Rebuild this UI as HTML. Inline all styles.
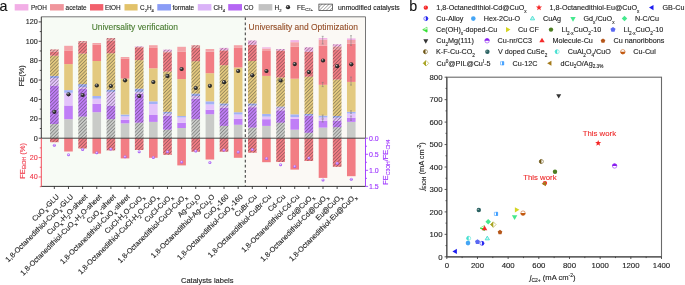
<!DOCTYPE html><html><head><meta charset="utf-8"><style>html,body{margin:0;padding:0;background:#fff;}svg{display:block;will-change:transform;}text{font-family:"Liberation Sans",sans-serif;}</style></head><body>
<svg width="685" height="285" viewBox="0 0 685 285">
<defs>
<pattern id="hat" patternUnits="userSpaceOnUse" width="2.45" height="2.45" patternTransform="rotate(45)"><line x1="0" y1="0" x2="0" y2="2.45" stroke="#2c2c2c" stroke-width="0.7"/></pattern>
<radialGradient id="ball" cx="0.38" cy="0.35" r="0.7"><stop offset="0" stop-color="#d8d8d8"/><stop offset="0.35" stop-color="#404040"/><stop offset="1" stop-color="#111"/></radialGradient>
<radialGradient id="pball" cx="0.45" cy="0.4" r="0.65"><stop offset="0" stop-color="#f0e0ff"/><stop offset="0.5" stop-color="#b878f8"/><stop offset="1" stop-color="#9a50f0"/></radialGradient>
</defs>
<rect width="685" height="285" fill="#fff"/>
<rect x="41.3" y="16.8" width="204.0" height="169.6" fill="#f7fbf5"/>
<rect x="245.3" y="16.8" width="120.19999999999999" height="169.6" fill="#fbf9f5"/>
<text x="91.7" y="29.8" font-size="8.45" fill="#4a7d32" stroke="#4a7d32" stroke-width="0.12">Universality verification</text>
<text x="248.6" y="29.7" font-size="8.45" fill="#96502a" stroke="#96502a" stroke-width="0.12">Universality and Optimization</text>
<rect x="50.04" y="124.00" width="8.6" height="14.20" fill="#c9cbc8"/>
<rect x="50.04" y="85.50" width="8.6" height="38.50" fill="#c07ef7"/>
<rect x="50.04" y="78.10" width="8.6" height="7.40" fill="#e3c3fb"/>
<rect x="50.04" y="75.90" width="8.6" height="2.20" fill="#a3b1f7"/>
<rect x="50.04" y="55.70" width="8.6" height="20.20" fill="#e3c97f"/>
<rect x="50.04" y="51.50" width="8.6" height="4.20" fill="#f27d84"/>
<rect x="50.04" y="49.40" width="8.6" height="2.10" fill="#f4a3a8"/>
<rect x="50.04" y="138.2" width="8.6" height="4.00" fill="#f27d84"/>
<rect x="50.04" y="49.40" width="8.6" height="88.80" fill="url(#hat)"/>
<rect x="50.04" y="138.2" width="8.6" height="4.00" fill="url(#hat)"/>
<rect x="64.18" y="119.20" width="8.6" height="19.00" fill="#c9cbc8"/>
<rect x="64.18" y="105.50" width="8.6" height="13.70" fill="#c07ef7"/>
<rect x="64.18" y="92.80" width="8.6" height="12.70" fill="#e3c3fb"/>
<rect x="64.18" y="90.10" width="8.6" height="2.70" fill="#a3b1f7"/>
<rect x="64.18" y="64.10" width="8.6" height="26.00" fill="#e3c97f"/>
<rect x="64.18" y="50.40" width="8.6" height="13.70" fill="#f27d84"/>
<rect x="64.18" y="45.80" width="8.6" height="4.60" fill="#f4a3a8"/>
<rect x="64.18" y="138.2" width="8.6" height="13.30" fill="#f27d84"/>
<rect x="78.32" y="116.60" width="8.6" height="21.60" fill="#c9cbc8"/>
<rect x="78.32" y="89.00" width="8.6" height="27.60" fill="#c07ef7"/>
<rect x="78.32" y="87.00" width="8.6" height="2.00" fill="#e3c3fb"/>
<rect x="78.32" y="84.10" width="8.6" height="2.90" fill="#a3b1f7"/>
<rect x="78.32" y="53.60" width="8.6" height="30.50" fill="#e3c97f"/>
<rect x="78.32" y="42.50" width="8.6" height="11.10" fill="#f27d84"/>
<rect x="78.32" y="41.00" width="8.6" height="1.50" fill="#f4a3a8"/>
<rect x="78.32" y="138.2" width="8.6" height="10.30" fill="#f27d84"/>
<rect x="78.32" y="41.00" width="8.6" height="97.20" fill="url(#hat)"/>
<rect x="78.32" y="138.2" width="8.6" height="10.30" fill="url(#hat)"/>
<rect x="92.46" y="112.20" width="8.6" height="26.00" fill="#c9cbc8"/>
<rect x="92.46" y="103.80" width="8.6" height="8.40" fill="#c07ef7"/>
<rect x="92.46" y="98.70" width="8.6" height="5.10" fill="#e3c3fb"/>
<rect x="92.46" y="96.00" width="8.6" height="2.70" fill="#a3b1f7"/>
<rect x="92.46" y="61.00" width="8.6" height="35.00" fill="#e3c97f"/>
<rect x="92.46" y="44.50" width="8.6" height="16.50" fill="#f27d84"/>
<rect x="92.46" y="43.00" width="8.6" height="1.50" fill="#f4a3a8"/>
<rect x="92.46" y="138.2" width="8.6" height="15.40" fill="#f27d84"/>
<rect x="106.60" y="119.20" width="8.6" height="19.00" fill="#c9cbc8"/>
<rect x="106.60" y="105.50" width="8.6" height="13.70" fill="#c07ef7"/>
<rect x="106.60" y="91.80" width="8.6" height="13.70" fill="#e3c3fb"/>
<rect x="106.60" y="89.70" width="8.6" height="2.10" fill="#a3b1f7"/>
<rect x="106.60" y="53.20" width="8.6" height="36.50" fill="#e3c97f"/>
<rect x="106.60" y="40.50" width="8.6" height="12.70" fill="#f27d84"/>
<rect x="106.60" y="38.00" width="8.6" height="2.50" fill="#f4a3a8"/>
<rect x="106.60" y="138.2" width="8.6" height="12.20" fill="#f27d84"/>
<rect x="106.60" y="38.00" width="8.6" height="100.20" fill="url(#hat)"/>
<rect x="106.60" y="138.2" width="8.6" height="12.20" fill="url(#hat)"/>
<rect x="120.74" y="123.40" width="8.6" height="14.80" fill="#c9cbc8"/>
<rect x="120.74" y="119.80" width="8.6" height="3.60" fill="#c07ef7"/>
<rect x="120.74" y="116.40" width="8.6" height="3.40" fill="#e3c3fb"/>
<rect x="120.74" y="114.50" width="8.6" height="1.90" fill="#a3b1f7"/>
<rect x="120.74" y="78.60" width="8.6" height="35.90" fill="#e3c97f"/>
<rect x="120.74" y="58.50" width="8.6" height="20.10" fill="#f27d84"/>
<rect x="120.74" y="57.00" width="8.6" height="1.50" fill="#f4a3a8"/>
<rect x="120.74" y="138.2" width="8.6" height="20.20" fill="#f27d84"/>
<rect x="134.88" y="122.70" width="8.6" height="15.50" fill="#c9cbc8"/>
<rect x="134.88" y="93.90" width="8.6" height="28.80" fill="#c07ef7"/>
<rect x="134.88" y="91.80" width="8.6" height="2.10" fill="#e3c3fb"/>
<rect x="134.88" y="88.60" width="8.6" height="3.20" fill="#a3b1f7"/>
<rect x="134.88" y="60.10" width="8.6" height="28.50" fill="#e3c97f"/>
<rect x="134.88" y="48.00" width="8.6" height="12.10" fill="#f27d84"/>
<rect x="134.88" y="47.00" width="8.6" height="1.00" fill="#f4a3a8"/>
<rect x="134.88" y="46.40" width="8.6" height="0.60" fill="#f2b3e6"/>
<rect x="134.88" y="138.2" width="8.6" height="11.80" fill="#f27d84"/>
<rect x="134.88" y="46.40" width="8.6" height="91.80" fill="url(#hat)"/>
<rect x="134.88" y="138.2" width="8.6" height="11.80" fill="url(#hat)"/>
<rect x="149.02" y="121.90" width="8.6" height="16.30" fill="#c9cbc8"/>
<rect x="149.02" y="115.00" width="8.6" height="6.90" fill="#c07ef7"/>
<rect x="149.02" y="104.00" width="8.6" height="11.00" fill="#e3c3fb"/>
<rect x="149.02" y="101.30" width="8.6" height="2.70" fill="#a3b1f7"/>
<rect x="149.02" y="68.30" width="8.6" height="33.00" fill="#e3c97f"/>
<rect x="149.02" y="47.90" width="8.6" height="20.40" fill="#f27d84"/>
<rect x="149.02" y="45.20" width="8.6" height="2.70" fill="#f4a3a8"/>
<rect x="149.02" y="138.2" width="8.6" height="19.60" fill="#f27d84"/>
<rect x="163.16" y="129.70" width="8.6" height="8.50" fill="#c9cbc8"/>
<rect x="163.16" y="116.00" width="8.6" height="13.70" fill="#c07ef7"/>
<rect x="163.16" y="113.50" width="8.6" height="2.50" fill="#e3c3fb"/>
<rect x="163.16" y="111.80" width="8.6" height="1.70" fill="#a3b1f7"/>
<rect x="163.16" y="71.50" width="8.6" height="40.30" fill="#e3c97f"/>
<rect x="163.16" y="53.00" width="8.6" height="18.50" fill="#f27d84"/>
<rect x="163.16" y="51.60" width="8.6" height="1.40" fill="#f4a3a8"/>
<rect x="163.16" y="49.60" width="8.6" height="2.00" fill="#f2b3e6"/>
<rect x="163.16" y="138.2" width="8.6" height="16.60" fill="#f27d84"/>
<rect x="163.16" y="49.60" width="8.6" height="88.60" fill="url(#hat)"/>
<rect x="163.16" y="138.2" width="8.6" height="16.60" fill="url(#hat)"/>
<rect x="177.30" y="128.00" width="8.6" height="10.20" fill="#c9cbc8"/>
<rect x="177.30" y="122.70" width="8.6" height="5.30" fill="#c07ef7"/>
<rect x="177.30" y="117.50" width="8.6" height="5.20" fill="#e3c3fb"/>
<rect x="177.30" y="116.00" width="8.6" height="1.50" fill="#a3b1f7"/>
<rect x="177.30" y="79.10" width="8.6" height="36.90" fill="#e3c97f"/>
<rect x="177.30" y="51.50" width="8.6" height="27.60" fill="#f27d84"/>
<rect x="177.30" y="46.80" width="8.6" height="4.70" fill="#f4a3a8"/>
<rect x="177.30" y="138.2" width="8.6" height="27.20" fill="#f27d84"/>
<rect x="191.44" y="119.20" width="8.6" height="19.00" fill="#c9cbc8"/>
<rect x="191.44" y="98.70" width="8.6" height="20.50" fill="#c07ef7"/>
<rect x="191.44" y="96.00" width="8.6" height="2.70" fill="#e3c3fb"/>
<rect x="191.44" y="93.50" width="8.6" height="2.50" fill="#a3b1f7"/>
<rect x="191.44" y="61.20" width="8.6" height="32.30" fill="#e3c97f"/>
<rect x="191.44" y="47.90" width="8.6" height="13.30" fill="#f27d84"/>
<rect x="191.44" y="45.20" width="8.6" height="2.70" fill="#f4a3a8"/>
<rect x="191.44" y="138.2" width="8.6" height="13.50" fill="#f27d84"/>
<rect x="191.44" y="45.20" width="8.6" height="93.00" fill="url(#hat)"/>
<rect x="191.44" y="138.2" width="8.6" height="13.50" fill="url(#hat)"/>
<rect x="205.58" y="114.30" width="8.6" height="23.90" fill="#c9cbc8"/>
<rect x="205.58" y="109.70" width="8.6" height="4.60" fill="#c07ef7"/>
<rect x="205.58" y="104.40" width="8.6" height="5.30" fill="#e3c3fb"/>
<rect x="205.58" y="101.30" width="8.6" height="3.10" fill="#a3b1f7"/>
<rect x="205.58" y="73.20" width="8.6" height="28.10" fill="#e3c97f"/>
<rect x="205.58" y="51.70" width="8.6" height="21.50" fill="#f27d84"/>
<rect x="205.58" y="49.00" width="8.6" height="2.70" fill="#f4a3a8"/>
<rect x="205.58" y="138.2" width="8.6" height="21.30" fill="#f27d84"/>
<rect x="219.72" y="125.90" width="8.6" height="12.30" fill="#c9cbc8"/>
<rect x="219.72" y="107.60" width="8.6" height="18.30" fill="#c07ef7"/>
<rect x="219.72" y="105.50" width="8.6" height="2.10" fill="#e3c3fb"/>
<rect x="219.72" y="103.40" width="8.6" height="2.10" fill="#a3b1f7"/>
<rect x="219.72" y="65.20" width="8.6" height="38.20" fill="#e3c97f"/>
<rect x="219.72" y="50.40" width="8.6" height="14.80" fill="#f27d84"/>
<rect x="219.72" y="47.90" width="8.6" height="2.50" fill="#f2b3e6"/>
<rect x="219.72" y="138.2" width="8.6" height="13.50" fill="#f27d84"/>
<rect x="219.72" y="47.90" width="8.6" height="90.30" fill="url(#hat)"/>
<rect x="219.72" y="138.2" width="8.6" height="13.50" fill="url(#hat)"/>
<rect x="233.86" y="124.80" width="8.6" height="13.40" fill="#c9cbc8"/>
<rect x="233.86" y="118.70" width="8.6" height="6.10" fill="#c07ef7"/>
<rect x="233.86" y="114.50" width="8.6" height="4.20" fill="#e3c3fb"/>
<rect x="233.86" y="112.20" width="8.6" height="2.30" fill="#a3b1f7"/>
<rect x="233.86" y="67.50" width="8.6" height="44.70" fill="#e3c97f"/>
<rect x="233.86" y="47.90" width="8.6" height="19.60" fill="#f27d84"/>
<rect x="233.86" y="45.20" width="8.6" height="2.70" fill="#f4a3a8"/>
<rect x="233.86" y="138.2" width="8.6" height="19.60" fill="#f27d84"/>
<rect x="248.00" y="127.60" width="8.6" height="10.60" fill="#c9cbc8"/>
<rect x="248.00" y="107.20" width="8.6" height="20.40" fill="#c07ef7"/>
<rect x="248.00" y="105.50" width="8.6" height="1.70" fill="#e3c3fb"/>
<rect x="248.00" y="103.40" width="8.6" height="2.10" fill="#a3b1f7"/>
<rect x="248.00" y="61.00" width="8.6" height="42.40" fill="#e3c97f"/>
<rect x="248.00" y="44.70" width="8.6" height="16.30" fill="#f27d84"/>
<rect x="248.00" y="40.50" width="8.6" height="4.20" fill="#f2b3e6"/>
<rect x="248.00" y="138.2" width="8.6" height="14.50" fill="#f27d84"/>
<rect x="248.00" y="40.50" width="8.6" height="97.70" fill="url(#hat)"/>
<rect x="248.00" y="138.2" width="8.6" height="14.50" fill="url(#hat)"/>
<rect x="262.14" y="125.90" width="8.6" height="12.30" fill="#c9cbc8"/>
<rect x="262.14" y="119.20" width="8.6" height="6.70" fill="#c07ef7"/>
<rect x="262.14" y="116.60" width="8.6" height="2.60" fill="#e3c3fb"/>
<rect x="262.14" y="113.90" width="8.6" height="2.70" fill="#a3b1f7"/>
<rect x="262.14" y="75.90" width="8.6" height="38.00" fill="#e3c97f"/>
<rect x="262.14" y="51.00" width="8.6" height="24.90" fill="#f27d84"/>
<rect x="262.14" y="48.50" width="8.6" height="2.50" fill="#f4a3a8"/>
<rect x="262.14" y="47.30" width="8.6" height="1.20" fill="#f2b3e6"/>
<rect x="262.14" y="138.2" width="8.6" height="24.00" fill="#f27d84"/>
<rect x="276.28" y="122.70" width="8.6" height="15.50" fill="#c9cbc8"/>
<rect x="276.28" y="110.30" width="8.6" height="12.40" fill="#c07ef7"/>
<rect x="276.28" y="107.60" width="8.6" height="2.70" fill="#e3c3fb"/>
<rect x="276.28" y="106.50" width="8.6" height="1.10" fill="#a3b1f7"/>
<rect x="276.28" y="77.40" width="8.6" height="29.10" fill="#e3c97f"/>
<rect x="276.28" y="50.50" width="8.6" height="26.90" fill="#f27d84"/>
<rect x="276.28" y="49.00" width="8.6" height="1.50" fill="#f2b3e6"/>
<rect x="276.28" y="138.2" width="8.6" height="23.80" fill="#f27d84"/>
<rect x="276.28" y="49.00" width="8.6" height="89.20" fill="url(#hat)"/>
<rect x="276.28" y="138.2" width="8.6" height="23.80" fill="url(#hat)"/>
<rect x="290.42" y="129.70" width="8.6" height="8.50" fill="#c9cbc8"/>
<rect x="290.42" y="118.70" width="8.6" height="11.00" fill="#c07ef7"/>
<rect x="290.42" y="117.00" width="8.6" height="1.70" fill="#e3c3fb"/>
<rect x="290.42" y="114.30" width="8.6" height="2.70" fill="#a3b1f7"/>
<rect x="290.42" y="78.70" width="8.6" height="35.60" fill="#e3c97f"/>
<rect x="290.42" y="46.80" width="8.6" height="31.90" fill="#f27d84"/>
<rect x="290.42" y="42.20" width="8.6" height="4.60" fill="#f4a3a8"/>
<rect x="290.42" y="40.10" width="8.6" height="2.10" fill="#f2b3e6"/>
<rect x="290.42" y="138.2" width="8.6" height="31.40" fill="#f27d84"/>
<rect x="304.56" y="132.80" width="8.6" height="5.40" fill="#c9cbc8"/>
<rect x="304.56" y="115.60" width="8.6" height="17.20" fill="#c07ef7"/>
<rect x="304.56" y="113.90" width="8.6" height="1.70" fill="#a3b1f7"/>
<rect x="304.56" y="76.70" width="8.6" height="37.20" fill="#e3c97f"/>
<rect x="304.56" y="51.70" width="8.6" height="25.00" fill="#f27d84"/>
<rect x="304.56" y="47.30" width="8.6" height="4.40" fill="#f2b3e6"/>
<rect x="304.56" y="138.2" width="8.6" height="22.80" fill="#f27d84"/>
<rect x="304.56" y="47.30" width="8.6" height="90.90" fill="url(#hat)"/>
<rect x="304.56" y="138.2" width="8.6" height="22.80" fill="url(#hat)"/>
<rect x="318.70" y="127.60" width="8.6" height="10.60" fill="#c9cbc8"/>
<rect x="318.70" y="120.80" width="8.6" height="6.80" fill="#c07ef7"/>
<rect x="318.70" y="117.50" width="8.6" height="3.30" fill="#e3c3fb"/>
<rect x="318.70" y="115.60" width="8.6" height="1.90" fill="#a3b1f7"/>
<rect x="318.70" y="84.80" width="8.6" height="30.80" fill="#e3c97f"/>
<rect x="318.70" y="45.80" width="8.6" height="39.00" fill="#f27d84"/>
<rect x="318.70" y="39.50" width="8.6" height="6.30" fill="#f4a3a8"/>
<rect x="318.70" y="38.00" width="8.6" height="1.50" fill="#f2b3e6"/>
<rect x="318.70" y="138.2" width="8.6" height="39.70" fill="#f27d84"/>
<rect x="332.84" y="127.20" width="8.6" height="11.00" fill="#c9cbc8"/>
<rect x="332.84" y="120.80" width="8.6" height="6.40" fill="#c07ef7"/>
<rect x="332.84" y="117.70" width="8.6" height="3.10" fill="#e3c3fb"/>
<rect x="332.84" y="116.00" width="8.6" height="1.70" fill="#a3b1f7"/>
<rect x="332.84" y="79.50" width="8.6" height="36.50" fill="#e3c97f"/>
<rect x="332.84" y="50.00" width="8.6" height="29.50" fill="#f27d84"/>
<rect x="332.84" y="46.40" width="8.6" height="3.60" fill="#f4a3a8"/>
<rect x="332.84" y="44.30" width="8.6" height="2.10" fill="#f2b3e6"/>
<rect x="332.84" y="138.2" width="8.6" height="28.60" fill="#f27d84"/>
<rect x="332.84" y="44.30" width="8.6" height="93.90" fill="url(#hat)"/>
<rect x="332.84" y="138.2" width="8.6" height="28.60" fill="url(#hat)"/>
<rect x="346.98" y="121.90" width="8.6" height="16.30" fill="#c9cbc8"/>
<rect x="346.98" y="117.70" width="8.6" height="4.20" fill="#c07ef7"/>
<rect x="346.98" y="113.50" width="8.6" height="4.20" fill="#e3c3fb"/>
<rect x="346.98" y="111.80" width="8.6" height="1.70" fill="#a3b1f7"/>
<rect x="346.98" y="81.90" width="8.6" height="29.90" fill="#e3c97f"/>
<rect x="346.98" y="43.70" width="8.6" height="38.20" fill="#f27d84"/>
<rect x="346.98" y="40.00" width="8.6" height="3.70" fill="#f4a3a8"/>
<rect x="346.98" y="38.40" width="8.6" height="1.60" fill="#f2b3e6"/>
<rect x="346.98" y="138.2" width="8.6" height="38.00" fill="#f27d84"/>
<path d="M322.7,36.3V44M321.7,36.3h2M321.7,44h2" stroke="#777" stroke-width="0.5" fill="none"/>
<path d="M322.7,82.4V86.6M321.7,82.4h2M321.7,86.6h2" stroke="#777" stroke-width="0.5" fill="none"/>
<path d="M322.7,115V118.2M321.7,115h2M321.7,118.2h2" stroke="#777" stroke-width="0.5" fill="none"/>
<path d="M322.7,119.2V122M321.7,119.2h2M321.7,122h2" stroke="#777" stroke-width="0.5" fill="none"/>
<path d="M351.0,35.7V45.3M350.0,35.7h2M350.0,45.3h2" stroke="#777" stroke-width="0.5" fill="none"/>
<path d="M351.0,77.1V85.1M350.0,77.1h2M350.0,85.1h2" stroke="#777" stroke-width="0.5" fill="none"/>
<path d="M351.0,110.8V113.3M350.0,110.8h2M350.0,113.3h2" stroke="#777" stroke-width="0.5" fill="none"/>
<path d="M351.0,116V120.3M350.0,116h2M350.0,120.3h2" stroke="#777" stroke-width="0.5" fill="none"/>
<line x1="41.3" y1="138.2" x2="365.5" y2="138.2" stroke="#333" stroke-width="0.9"/>
<circle cx="54.34" cy="111.8" r="2.1" fill="url(#ball)"/>
<circle cx="54.34" cy="145.2" r="1.5" fill="url(#pball)"/>
<circle cx="68.48" cy="94.3" r="2.1" fill="url(#ball)"/>
<circle cx="68.48" cy="154.8" r="1.5" fill="url(#pball)"/>
<circle cx="82.62" cy="95.0" r="2.1" fill="url(#ball)"/>
<circle cx="82.62" cy="149.4" r="1.5" fill="url(#pball)"/>
<circle cx="96.76" cy="85.5" r="2.1" fill="url(#ball)"/>
<circle cx="96.76" cy="152.7" r="1.5" fill="url(#pball)"/>
<circle cx="110.90" cy="86.0" r="2.1" fill="url(#ball)"/>
<circle cx="110.90" cy="149.0" r="1.5" fill="url(#pball)"/>
<circle cx="125.04" cy="80.3" r="2.1" fill="url(#ball)"/>
<circle cx="125.04" cy="156.7" r="1.5" fill="url(#pball)"/>
<circle cx="139.18" cy="96.0" r="2.1" fill="url(#ball)"/>
<circle cx="139.18" cy="151.7" r="1.5" fill="url(#pball)"/>
<circle cx="153.32" cy="82.0" r="2.1" fill="url(#ball)"/>
<circle cx="153.32" cy="157.4" r="1.5" fill="url(#pball)"/>
<circle cx="167.46" cy="75.9" r="2.1" fill="url(#ball)"/>
<circle cx="167.46" cy="151.7" r="1.5" fill="url(#pball)"/>
<circle cx="181.60" cy="69.0" r="2.1" fill="url(#ball)"/>
<circle cx="181.60" cy="162.0" r="1.5" fill="url(#pball)"/>
<circle cx="195.74" cy="88.0" r="2.1" fill="url(#ball)"/>
<circle cx="195.74" cy="151.0" r="1.5" fill="url(#pball)"/>
<circle cx="209.88" cy="85.8" r="2.1" fill="url(#ball)"/>
<circle cx="209.88" cy="162.6" r="1.5" fill="url(#pball)"/>
<circle cx="224.02" cy="82.2" r="2.1" fill="url(#ball)"/>
<circle cx="224.02" cy="150.0" r="1.5" fill="url(#pball)"/>
<circle cx="238.16" cy="71.0" r="2.1" fill="url(#ball)"/>
<circle cx="238.16" cy="152.1" r="1.5" fill="url(#pball)"/>
<circle cx="252.30" cy="75.3" r="2.1" fill="url(#ball)"/>
<circle cx="252.30" cy="149.6" r="1.5" fill="url(#pball)"/>
<circle cx="266.44" cy="71.0" r="2.1" fill="url(#ball)"/>
<circle cx="266.44" cy="158.4" r="1.5" fill="url(#pball)"/>
<circle cx="280.58" cy="80.5" r="2.1" fill="url(#ball)"/>
<circle cx="280.58" cy="164.7" r="1.5" fill="url(#pball)"/>
<circle cx="294.72" cy="64.1" r="2.1" fill="url(#ball)"/>
<circle cx="294.72" cy="166.4" r="1.5" fill="url(#pball)"/>
<circle cx="308.86" cy="72.1" r="2.1" fill="url(#ball)"/>
<circle cx="308.86" cy="158.0" r="1.5" fill="url(#pball)"/>
<circle cx="323.00" cy="60.5" r="2.1" fill="url(#ball)"/>
<circle cx="323.00" cy="179.9" r="1.5" fill="url(#pball)"/>
<circle cx="337.14" cy="66.2" r="2.1" fill="url(#ball)"/>
<circle cx="337.14" cy="163.3" r="1.5" fill="url(#pball)"/>
<circle cx="351.28" cy="64.3" r="2.1" fill="url(#ball)"/>
<circle cx="351.28" cy="179.2" r="1.5" fill="url(#pball)"/>
<line x1="245.3" y1="16.8" x2="245.3" y2="186.4" stroke="#3c3c3c" stroke-width="1.05" stroke-dasharray="2.75 2.335" stroke-dashoffset="-0.55"/>
<line x1="41.3" y1="16.8" x2="365.5" y2="16.8" stroke="#777" stroke-width="1"/>
<line x1="365.5" y1="16.8" x2="365.5" y2="138.2" stroke="#666" stroke-width="0.9"/>
<line x1="365.5" y1="138.2" x2="365.5" y2="186.4" stroke="#9b30ff" stroke-width="0.9"/>
<line x1="41.3" y1="16.8" x2="41.3" y2="138.2" stroke="#222" stroke-width="0.9"/>
<line x1="41.3" y1="138.2" x2="41.3" y2="186.4" stroke="#f03a4a" stroke-width="0.9"/>
<line x1="41.3" y1="186.4" x2="365.5" y2="186.4" stroke="#222" stroke-width="0.9"/>
<line x1="38.699999999999996" y1="138.20" x2="41.3" y2="138.20" stroke="#222" stroke-width="0.8"/>
<text x="37.8" y="140.70" font-size="7.2" text-anchor="end" fill="#222" stroke="#222" stroke-width="0.12">0</text>
<line x1="39.8" y1="128.51" x2="41.3" y2="128.51" stroke="#222" stroke-width="0.8"/>
<line x1="38.699999999999996" y1="118.82" x2="41.3" y2="118.82" stroke="#222" stroke-width="0.8"/>
<text x="37.8" y="121.32" font-size="7.2" text-anchor="end" fill="#222" stroke="#222" stroke-width="0.12">20</text>
<line x1="39.8" y1="109.12" x2="41.3" y2="109.12" stroke="#222" stroke-width="0.8"/>
<line x1="38.699999999999996" y1="99.43" x2="41.3" y2="99.43" stroke="#222" stroke-width="0.8"/>
<text x="37.8" y="101.93" font-size="7.2" text-anchor="end" fill="#222" stroke="#222" stroke-width="0.12">40</text>
<line x1="39.8" y1="89.74" x2="41.3" y2="89.74" stroke="#222" stroke-width="0.8"/>
<line x1="38.699999999999996" y1="80.05" x2="41.3" y2="80.05" stroke="#222" stroke-width="0.8"/>
<text x="37.8" y="82.55" font-size="7.2" text-anchor="end" fill="#222" stroke="#222" stroke-width="0.12">60</text>
<line x1="39.8" y1="70.36" x2="41.3" y2="70.36" stroke="#222" stroke-width="0.8"/>
<line x1="38.699999999999996" y1="60.67" x2="41.3" y2="60.67" stroke="#222" stroke-width="0.8"/>
<text x="37.8" y="63.17" font-size="7.2" text-anchor="end" fill="#222" stroke="#222" stroke-width="0.12">80</text>
<line x1="39.8" y1="50.98" x2="41.3" y2="50.98" stroke="#222" stroke-width="0.8"/>
<line x1="38.699999999999996" y1="41.28" x2="41.3" y2="41.28" stroke="#222" stroke-width="0.8"/>
<text x="37.8" y="43.78" font-size="7.2" text-anchor="end" fill="#222" stroke="#222" stroke-width="0.12">100</text>
<line x1="39.8" y1="31.59" x2="41.3" y2="31.59" stroke="#222" stroke-width="0.8"/>
<line x1="38.699999999999996" y1="21.90" x2="41.3" y2="21.90" stroke="#222" stroke-width="0.8"/>
<text x="37.8" y="24.40" font-size="7.2" text-anchor="end" fill="#222" stroke="#222" stroke-width="0.12">120</text>
<line x1="39.8" y1="147.89" x2="41.3" y2="147.89" stroke="#f03a4a" stroke-width="0.8"/>
<line x1="38.699999999999996" y1="157.58" x2="41.3" y2="157.58" stroke="#f03a4a" stroke-width="0.8"/>
<text x="37.8" y="160.08" font-size="7.2" text-anchor="end" fill="#f03a4a" stroke="#f03a4a" stroke-width="0.12">20</text>
<line x1="39.8" y1="167.27" x2="41.3" y2="167.27" stroke="#f03a4a" stroke-width="0.8"/>
<line x1="38.699999999999996" y1="176.97" x2="41.3" y2="176.97" stroke="#f03a4a" stroke-width="0.8"/>
<text x="37.8" y="179.47" font-size="7.2" text-anchor="end" fill="#f03a4a" stroke="#f03a4a" stroke-width="0.12">40</text>
<line x1="39.8" y1="186.66" x2="41.3" y2="186.66" stroke="#f03a4a" stroke-width="0.8"/>
<line x1="365.5" y1="138.20" x2="368.1" y2="138.20" stroke="#9b30ff" stroke-width="0.8"/>
<text x="369.0" y="140.70" font-size="7" fill="#9b30ff" stroke="#9b30ff" stroke-width="0.12">0.0</text>
<line x1="365.5" y1="146.23" x2="367.0" y2="146.23" stroke="#9b30ff" stroke-width="0.8"/>
<line x1="365.5" y1="154.27" x2="368.1" y2="154.27" stroke="#9b30ff" stroke-width="0.8"/>
<text x="369.0" y="156.77" font-size="7" fill="#9b30ff" stroke="#9b30ff" stroke-width="0.12">0.5</text>
<line x1="365.5" y1="162.30" x2="367.0" y2="162.30" stroke="#9b30ff" stroke-width="0.8"/>
<line x1="365.5" y1="170.33" x2="368.1" y2="170.33" stroke="#9b30ff" stroke-width="0.8"/>
<text x="369.0" y="172.83" font-size="7" fill="#9b30ff" stroke="#9b30ff" stroke-width="0.12">1.0</text>
<line x1="365.5" y1="178.37" x2="367.0" y2="178.37" stroke="#9b30ff" stroke-width="0.8"/>
<line x1="365.5" y1="186.40" x2="368.1" y2="186.40" stroke="#9b30ff" stroke-width="0.8"/>
<text x="369.0" y="188.90" font-size="7" fill="#9b30ff" stroke="#9b30ff" stroke-width="0.12">1.5</text>
<line x1="54.34" y1="186.4" x2="54.34" y2="189.0" stroke="#222" stroke-width="0.8"/>
<line x1="68.48" y1="186.4" x2="68.48" y2="189.0" stroke="#222" stroke-width="0.8"/>
<line x1="82.62" y1="186.4" x2="82.62" y2="189.0" stroke="#222" stroke-width="0.8"/>
<line x1="96.76" y1="186.4" x2="96.76" y2="189.0" stroke="#222" stroke-width="0.8"/>
<line x1="110.90" y1="186.4" x2="110.90" y2="189.0" stroke="#222" stroke-width="0.8"/>
<line x1="125.04" y1="186.4" x2="125.04" y2="189.0" stroke="#222" stroke-width="0.8"/>
<line x1="139.18" y1="186.4" x2="139.18" y2="189.0" stroke="#222" stroke-width="0.8"/>
<line x1="153.32" y1="186.4" x2="153.32" y2="189.0" stroke="#222" stroke-width="0.8"/>
<line x1="167.46" y1="186.4" x2="167.46" y2="189.0" stroke="#222" stroke-width="0.8"/>
<line x1="181.60" y1="186.4" x2="181.60" y2="189.0" stroke="#222" stroke-width="0.8"/>
<line x1="195.74" y1="186.4" x2="195.74" y2="189.0" stroke="#222" stroke-width="0.8"/>
<line x1="209.88" y1="186.4" x2="209.88" y2="189.0" stroke="#222" stroke-width="0.8"/>
<line x1="224.02" y1="186.4" x2="224.02" y2="189.0" stroke="#222" stroke-width="0.8"/>
<line x1="238.16" y1="186.4" x2="238.16" y2="189.0" stroke="#222" stroke-width="0.8"/>
<line x1="252.30" y1="186.4" x2="252.30" y2="189.0" stroke="#222" stroke-width="0.8"/>
<line x1="266.44" y1="186.4" x2="266.44" y2="189.0" stroke="#222" stroke-width="0.8"/>
<line x1="280.58" y1="186.4" x2="280.58" y2="189.0" stroke="#222" stroke-width="0.8"/>
<line x1="294.72" y1="186.4" x2="294.72" y2="189.0" stroke="#222" stroke-width="0.8"/>
<line x1="308.86" y1="186.4" x2="308.86" y2="189.0" stroke="#222" stroke-width="0.8"/>
<line x1="323.00" y1="186.4" x2="323.00" y2="189.0" stroke="#222" stroke-width="0.8"/>
<line x1="337.14" y1="186.4" x2="337.14" y2="189.0" stroke="#222" stroke-width="0.8"/>
<line x1="351.28" y1="186.4" x2="351.28" y2="189.0" stroke="#222" stroke-width="0.8"/>
<text transform="translate(24.2,75.8) rotate(-90)" font-size="7.4" text-anchor="middle" fill="#222" stroke="#222" stroke-width="0.12">FE(%)</text>
<text transform="translate(24.6,160.9) rotate(-90)" font-size="7.6" text-anchor="middle" fill="#f03a4a" stroke="#f03a4a" stroke-width="0.12">FE<tspan font-size="5" dy="1.8">EtOH</tspan><tspan dy="-1.8"> (%)</tspan></text>
<text transform="translate(388.3,162.2) rotate(-90)" font-size="7.5" text-anchor="middle" fill="#9b30ff" stroke="#9b30ff" stroke-width="0.12">FE<tspan font-size="5" dy="1.7">C3OH</tspan><tspan dy="-1.7">/FE</tspan><tspan font-size="5" dy="1.7">CH4</tspan></text>
<text transform="translate(59.54,197.20) rotate(-45)" font-size="7.3" text-anchor="end" fill="#222" stroke="#222" stroke-width="0.12">CuO<tspan font-size="4.75" dy="2.34">x</tspan><tspan dy="-2.34">​</tspan>-GLU</text>
<text transform="translate(73.68,197.20) rotate(-45)" font-size="7.3" text-anchor="end" fill="#222" stroke="#222" stroke-width="0.12">1,8-Octanedithiol-CuO<tspan font-size="4.75" dy="2.34">x</tspan><tspan dy="-2.34">​</tspan>-GLU</text>
<text transform="translate(87.82,197.20) rotate(-45)" font-size="7.3" text-anchor="end" fill="#222" stroke="#222" stroke-width="0.12">CuO<tspan font-size="4.75" dy="2.34">x</tspan><tspan dy="-2.34">​</tspan>-H<tspan font-size="4.75" dy="2.34">2</tspan><tspan dy="-2.34">​</tspan>O-sheet</text>
<text transform="translate(101.96,197.20) rotate(-45)" font-size="7.3" text-anchor="end" fill="#222" stroke="#222" stroke-width="0.12">1,8-Octanedithiol-CuO<tspan font-size="4.75" dy="2.34">x</tspan><tspan dy="-2.34">​</tspan>-H<tspan font-size="4.75" dy="2.34">2</tspan><tspan dy="-2.34">​</tspan>O-sheet</text>
<text transform="translate(116.10,197.20) rotate(-45)" font-size="7.3" text-anchor="end" fill="#222" stroke="#222" stroke-width="0.12">CuO<tspan font-size="4.75" dy="2.34">x</tspan><tspan dy="-2.34">​</tspan>-sheet</text>
<text transform="translate(130.24,197.20) rotate(-45)" font-size="7.3" text-anchor="end" fill="#222" stroke="#222" stroke-width="0.12">1,8-Octanedithiol-CuO<tspan font-size="4.75" dy="2.34">x</tspan><tspan dy="-2.34">​</tspan>-sheet</text>
<text transform="translate(144.38,197.20) rotate(-45)" font-size="7.3" text-anchor="end" fill="#222" stroke="#222" stroke-width="0.12">CuCl-H<tspan font-size="4.75" dy="2.34">2</tspan><tspan dy="-2.34">​</tspan>O-CuO<tspan font-size="4.75" dy="2.34">x</tspan><tspan dy="-2.34">​</tspan></text>
<text transform="translate(158.52,197.20) rotate(-45)" font-size="7.3" text-anchor="end" fill="#222" stroke="#222" stroke-width="0.12">1,8-Octanedithiol-CuCl-H<tspan font-size="4.75" dy="2.34">2</tspan><tspan dy="-2.34">​</tspan>O-CuO<tspan font-size="4.75" dy="2.34">x</tspan><tspan dy="-2.34">​</tspan></text>
<text transform="translate(172.66,197.20) rotate(-45)" font-size="7.3" text-anchor="end" fill="#222" stroke="#222" stroke-width="0.12">CuCl-CuO<tspan font-size="4.75" dy="2.34">x</tspan><tspan dy="-2.34">​</tspan></text>
<text transform="translate(186.80,197.20) rotate(-45)" font-size="7.3" text-anchor="end" fill="#222" stroke="#222" stroke-width="0.12">1,8-Octanedithiol-CuCl-CuO<tspan font-size="4.75" dy="2.34">x</tspan><tspan dy="-2.34">​</tspan></text>
<text transform="translate(200.94,197.20) rotate(-45)" font-size="7.3" text-anchor="end" fill="#222" stroke="#222" stroke-width="0.12">Ag-Cu<tspan font-size="4.75" dy="2.34">2</tspan><tspan dy="-2.34">​</tspan>O</text>
<text transform="translate(215.08,197.20) rotate(-45)" font-size="7.3" text-anchor="end" fill="#222" stroke="#222" stroke-width="0.12">1,8-Octanedithiol-Ag-Cu<tspan font-size="4.75" dy="2.34">2</tspan><tspan dy="-2.34">​</tspan>O</text>
<text transform="translate(229.22,197.20) rotate(-45)" font-size="7.3" text-anchor="end" fill="#222" stroke="#222" stroke-width="0.12">CuO<tspan font-size="4.75" dy="2.34">x</tspan><tspan dy="-2.34">​</tspan>-160</text>
<text transform="translate(243.36,197.20) rotate(-45)" font-size="7.3" text-anchor="end" fill="#222" stroke="#222" stroke-width="0.12">1,8-Octanedithiol-CuO<tspan font-size="4.75" dy="2.34">x</tspan><tspan dy="-2.34">​</tspan>-160</text>
<text transform="translate(257.50,197.20) rotate(-45)" font-size="7.3" text-anchor="end" fill="#222" stroke="#222" stroke-width="0.12">CuBr-Cu</text>
<text transform="translate(271.64,197.20) rotate(-45)" font-size="7.3" text-anchor="end" fill="#222" stroke="#222" stroke-width="0.12">1,8-Octanedithiol-CuBr-Cu</text>
<text transform="translate(285.78,197.20) rotate(-45)" font-size="7.3" text-anchor="end" fill="#222" stroke="#222" stroke-width="0.12">Cd-Cu</text>
<text transform="translate(299.92,197.20) rotate(-45)" font-size="7.3" text-anchor="end" fill="#222" stroke="#222" stroke-width="0.12">1,8-Octanedithiol-Cd-Cu</text>
<text transform="translate(314.06,197.20) rotate(-45)" font-size="7.3" text-anchor="end" fill="#222" stroke="#222" stroke-width="0.12">Cd@CuO<tspan font-size="4.75" dy="2.34">x</tspan><tspan dy="-2.34">​</tspan></text>
<text transform="translate(328.20,197.20) rotate(-45)" font-size="7.3" text-anchor="end" fill="#222" stroke="#222" stroke-width="0.12">1,8-Octanedithiol-Cd@CuO<tspan font-size="4.75" dy="2.34">x</tspan><tspan dy="-2.34">​</tspan></text>
<text transform="translate(342.34,197.20) rotate(-45)" font-size="7.3" text-anchor="end" fill="#222" stroke="#222" stroke-width="0.12">Eu@CuO<tspan font-size="4.75" dy="2.34">x</tspan><tspan dy="-2.34">​</tspan></text>
<text transform="translate(356.48,197.20) rotate(-45)" font-size="7.3" text-anchor="end" fill="#222" stroke="#222" stroke-width="0.12">1,8-Octanedithiol-Eu@CuO<tspan font-size="4.75" dy="2.34">x</tspan><tspan dy="-2.34">​</tspan></text>
<text x="181" y="282.5" font-size="7.5" fill="#222" stroke="#222" stroke-width="0.12">Catalysts labels</text>
<text x="-0.6" y="10.8" font-size="14.3" fill="#111" stroke="#111" stroke-width="0.12">a</text>
<rect x="14.7" y="4.1" width="13.7" height="6.4" fill="#f2aee6"/>
<text x="30.9" y="9.7" font-size="6.4" fill="#222" stroke="#222" stroke-width="0.12">PrOH</text>
<rect x="50" y="4.1" width="13.8" height="6.4" fill="#f0959c"/>
<text x="65.6" y="9.7" font-size="6.4" fill="#222" stroke="#222" stroke-width="0.12">acetate</text>
<rect x="90" y="4.1" width="13.3" height="6.4" fill="#f2606c"/>
<text x="105" y="9.7" font-size="6.4" fill="#222" stroke="#222" stroke-width="0.12">EtOH</text>
<rect x="124.5" y="4.1" width="13.1" height="6.4" fill="#e2c26a"/>
<text x="140" y="9.7" font-size="6.4" fill="#222" stroke="#222" stroke-width="0.12">C<tspan font-size="4.16" dy="2.05">2</tspan><tspan dy="-2.05">​</tspan>H<tspan font-size="4.16" dy="2.05">4</tspan><tspan dy="-2.05">​</tspan></text>
<rect x="157.3" y="4.1" width="13.7" height="6.4" fill="#8a9cf6"/>
<text x="172.5" y="9.7" font-size="6.4" fill="#222" stroke="#222" stroke-width="0.12">formate</text>
<rect x="197.8" y="4.1" width="13.6" height="6.4" fill="#dab2f8"/>
<text x="213.5" y="9.7" font-size="6.4" fill="#222" stroke="#222" stroke-width="0.12">CH<tspan font-size="4.16" dy="2.05">4</tspan><tspan dy="-2.05">​</tspan></text>
<rect x="228.2" y="4.1" width="13.8" height="6.4" fill="#b566f4"/>
<text x="244" y="9.7" font-size="6.4" fill="#222" stroke="#222" stroke-width="0.12">CO</text>
<rect x="258.6" y="4.1" width="13.7" height="6.4" fill="#c2c2c2"/>
<text x="274.5" y="9.7" font-size="6.4" fill="#222" stroke="#222" stroke-width="0.12">H<tspan font-size="4.16" dy="2.05">2</tspan><tspan dy="-2.05">​</tspan></text>
<circle cx="288" cy="7.2" r="2.1" fill="url(#ball)"/>
<text x="297" y="9.7" font-size="6.4" fill="#222" stroke="#222" stroke-width="0.12">FE<tspan font-size="4.2" dy="1.5">C2+</tspan></text>
<rect x="318.9" y="4.1" width="13.6" height="6.4" fill="#fff" stroke="#333" stroke-width="0.7"/>
<rect x="318.9" y="4.1" width="13.6" height="6.4" fill="url(#hat)"/>
<text x="338.1" y="9.7" font-size="6.8" fill="#222" stroke="#222" stroke-width="0.12">unmodified catalysts</text>
<text x="409.3" y="10.8" font-size="14.3" fill="#111" stroke="#111" stroke-width="0.12">b</text>
<path d="M423.60,7.60a2.2,2.2 0 1,0 4.4,0a2.2,2.2 0 1,0 -4.4,0Z" fill="#f52525"/>
<circle cx="425.20" cy="7.00" r="0.7" fill="#fff" opacity="0.55"/>
<text x="436.3" y="10.2" font-size="7.2" fill="#222" stroke="#222" stroke-width="0.12">1,8-Octanedithiol-Cd@CuO<tspan font-size="4.68" dy="2.30">x</tspan><tspan dy="-2.30">​</tspan></text>
<path d="M539.00,4.41L539.79,6.52L542.03,6.61L540.27,8.01L540.88,10.18L539.00,8.94L537.12,10.18L537.73,8.01L535.97,6.61L538.21,6.52Z" fill="#f52525"/>
<text x="549.5" y="10.2" font-size="7.2" fill="#222" stroke="#222" stroke-width="0.12">1,8-Octanedithiol-Eu@CuO<tspan font-size="4.68" dy="2.30">x</tspan><tspan dy="-2.30">​</tspan></text>
<path d="M649.01,7.60L653.50,5.01L653.50,10.19Z" fill="#1c1cf0"/>
<text x="662.5" y="10.2" font-size="7.2" fill="#222" stroke="#222" stroke-width="0.12">GB-Cu</text>
<clipPath id="c1"><rect x="425.80" y="15.40" width="3.20" height="6.40"/></clipPath>
<path d="M423.80,18.60a2.0,2.0 0 1,0 4.0,0a2.0,2.0 0 1,0 -4.0,0Z" fill="#fff" stroke="#2424f0" stroke-width="0.55"/>
<path d="M423.80,18.60a2.0,2.0 0 1,0 4.0,0a2.0,2.0 0 1,0 -4.0,0Z" fill="#2424f0" stroke="#2424f0" stroke-width="0.55" clip-path="url(#c1)"/>
<text x="436.3" y="21.2" font-size="7.2" fill="#222" stroke="#222" stroke-width="0.12">Cu-Alloy</text>
<path d="M471.00,18.60a2.3,2.3 0 1,0 4.6,0a2.3,2.3 0 1,0 -4.6,0Z" fill="#45a5f5"/>
<text x="483.8" y="21.2" font-size="7.2" fill="#222" stroke="#222" stroke-width="0.12">Hex-2Cu-O</text>
<path d="M532.50,16.13L534.64,19.84L530.36,19.84Z" fill="#c8f4f0" stroke="#45e0d2" stroke-width="0.9"/>
<text x="543.0" y="21.2" font-size="7.2" fill="#222" stroke="#222" stroke-width="0.12">CuAg</text>
<path d="M573.00,21.72L570.30,17.04L575.70,17.04Z" fill="#45e88e"/>
<text x="583.5" y="21.2" font-size="7.2" fill="#222" stroke="#222" stroke-width="0.12">Gd<tspan font-size="4.68" dy="2.30">x</tspan><tspan dy="-2.30">​</tspan>/CuO<tspan font-size="4.68" dy="2.30">x</tspan><tspan dy="-2.30">​</tspan></text>
<path d="M624.50,15.85L627.25,18.60L624.50,21.35L621.75,18.60Z" fill="#45e88e"/>
<text x="635.0" y="21.2" font-size="7.2" fill="#222" stroke="#222" stroke-width="0.12">N-C/Cu</text>
<clipPath id="c2"><rect x="422.08" y="29.60" width="7.04" height="3.52"/></clipPath>
<path d="M422.74,29.60L427.03,27.12L427.03,32.08Z" fill="#fff" stroke="#2ee02e" stroke-width="0.55"/>
<path d="M422.74,29.60L427.03,27.12L427.03,32.08Z" fill="#2ee02e" stroke="#2ee02e" stroke-width="0.55" clip-path="url(#c2)"/>
<text x="436.1" y="32.2" font-size="7.2" fill="#222" stroke="#222" stroke-width="0.12">Ce(OH)<tspan font-size="4.68" dy="2.30">x</tspan><tspan dy="-2.30">​</tspan>-doped-Cu</text>
<path d="M510.49,29.60L506.00,32.19L506.00,27.01Z" fill="#d4d422"/>
<text x="518.0" y="32.2" font-size="7.2" fill="#222" stroke="#222" stroke-width="0.12">Cu CF</text>
<path d="M548.80,29.60a2.2,2.2 0 1,0 4.4,0a2.2,2.2 0 1,0 -4.4,0Z" fill="#4d7d22"/>
<text x="561.5" y="32.2" font-size="7.2" fill="#222" stroke="#222" stroke-width="0.12">Li<tspan font-size="4.68" dy="2.30">2-x</tspan><tspan dy="-2.30">​</tspan>CuO<tspan font-size="4.68" dy="2.30">2</tspan><tspan dy="-2.30">​</tspan>-10</text>
<path d="M613.00,26.96L615.51,28.78L614.55,31.74L611.45,31.74L610.49,28.78Z" fill="#5a68f2"/>
<text x="623.5" y="32.2" font-size="7.2" fill="#222" stroke="#222" stroke-width="0.12">Li<tspan font-size="4.68" dy="2.30">2-x</tspan><tspan dy="-2.30">​</tspan>CuO<tspan font-size="4.68" dy="2.30">2</tspan><tspan dy="-2.30">​</tspan>-10</text>
<path d="M425.80,43.66L423.32,39.37L428.28,39.37Z" fill="#333333"/>
<text x="436.3" y="43.4" font-size="7.2" fill="#222" stroke="#222" stroke-width="0.12">Cu<tspan font-size="4.68" dy="2.30">2</tspan><tspan dy="-2.30">​</tspan>Mg(111)</text>
<clipPath id="c3"><rect x="483.58" y="37.28" width="7.04" height="3.52"/></clipPath>
<path d="M484.90,40.80a2.2,2.2 0 1,0 4.4,0a2.2,2.2 0 1,0 -4.4,0Z" fill="#fff" stroke="#8a1ef0" stroke-width="0.55"/>
<path d="M484.90,40.80a2.2,2.2 0 1,0 4.4,0a2.2,2.2 0 1,0 -4.4,0Z" fill="#8a1ef0" stroke="#8a1ef0" stroke-width="0.55" clip-path="url(#c3)"/>
<text x="497.6" y="43.4" font-size="7.2" fill="#222" stroke="#222" stroke-width="0.12">Cu-nr/CC3</text>
<path d="M542.00,37.68L544.70,42.36L539.30,42.36Z" fill="#f52a2a"/>
<text x="552.5" y="43.4" font-size="7.2" fill="#222" stroke="#222" stroke-width="0.12">Molecule-Cu</text>
<path d="M603.00,38.38L605.30,40.05L604.42,42.76L601.58,42.76L600.70,40.05Z" fill="#b5561a"/>
<text x="613.5" y="43.4" font-size="7.2" fill="#222" stroke="#222" stroke-width="0.12">Cu nanoribbons</text>
<clipPath id="c4"><rect x="422.30" y="48.50" width="3.20" height="6.40"/></clipPath>
<path d="M423.50,51.70a2.0,2.0 0 1,0 4.0,0a2.0,2.0 0 1,0 -4.0,0Z" fill="#fff" stroke="#6e5616" stroke-width="0.55"/>
<path d="M423.50,51.70a2.0,2.0 0 1,0 4.0,0a2.0,2.0 0 1,0 -4.0,0Z" fill="#6e5616" stroke="#6e5616" stroke-width="0.55" clip-path="url(#c4)"/>
<text x="436.0" y="54.3" font-size="7.2" fill="#222" stroke="#222" stroke-width="0.12">K-F-Cu-CO<tspan font-size="4.68" dy="2.30">2</tspan><tspan dy="-2.30">​</tspan></text>
<path d="M485.20,51.70a2.2,2.2 0 1,0 4.4,0a2.2,2.2 0 1,0 -4.4,0Z" fill="#2b6262"/>
<circle cx="486.80" cy="51.10" r="0.7" fill="#fff" opacity="0.55"/>
<text x="497.9" y="54.3" font-size="7.2" fill="#222" stroke="#222" stroke-width="0.12">V doped CuSe<tspan font-size="4.68" dy="2.30">2</tspan><tspan dy="-2.30">​</tspan></text>
<clipPath id="c5"><rect x="554.00" y="48.50" width="3.20" height="6.40"/></clipPath>
<path d="M555.20,51.70a2.0,2.0 0 1,0 4.0,0a2.0,2.0 0 1,0 -4.0,0Z" fill="#fff" stroke="#45e0d2" stroke-width="0.55"/>
<path d="M555.20,51.70a2.0,2.0 0 1,0 4.0,0a2.0,2.0 0 1,0 -4.0,0Z" fill="#45e0d2" stroke="#45e0d2" stroke-width="0.55" clip-path="url(#c5)"/>
<text x="567.7" y="54.3" font-size="7.2" fill="#222" stroke="#222" stroke-width="0.12">CuAl<tspan font-size="4.68" dy="2.30">2</tspan><tspan dy="-2.30">​</tspan>O<tspan font-size="4.68" dy="2.30">4</tspan><tspan dy="-2.30">​</tspan>/CuO</text>
<clipPath id="c6"><rect x="619.28" y="51.70" width="7.04" height="3.52"/></clipPath>
<path d="M620.60,51.70a2.2,2.2 0 1,0 4.4,0a2.2,2.2 0 1,0 -4.4,0Z" fill="#fff" stroke="#c2580e" stroke-width="0.55"/>
<path d="M620.60,51.70a2.2,2.2 0 1,0 4.4,0a2.2,2.2 0 1,0 -4.4,0Z" fill="#c2580e" stroke="#c2580e" stroke-width="0.55" clip-path="url(#c6)"/>
<text x="633.3" y="54.3" font-size="7.2" fill="#222" stroke="#222" stroke-width="0.12">Cu-CuI</text>
<clipPath id="c7"><rect x="422.48" y="59.78" width="3.52" height="7.04"/></clipPath>
<path d="M426.00,60.55L428.75,63.30L426.00,66.05L423.25,63.30Z" fill="#fff" stroke="#a8a422" stroke-width="0.55"/>
<path d="M426.00,60.55L428.75,63.30L426.00,66.05L423.25,63.30Z" fill="#a8a422" stroke="#a8a422" stroke-width="0.55" clip-path="url(#c7)"/>
<text x="436.5" y="65.9" font-size="7.2" fill="#222" stroke="#222" stroke-width="0.12">Cu<tspan font-size="4.68" dy="-2.74">0</tspan><tspan dy="2.74">​</tspan>@PIL@Cu<tspan font-size="4.68" dy="-2.74">I</tspan><tspan dy="2.74">​</tspan>-5</text>
<clipPath id="c8"><rect x="502.10" y="60.74" width="2.56" height="5.12"/></clipPath>
<path d="M500.50,61.70h3.2v3.2h-3.2Z" fill="#fff" stroke="#3a9cff" stroke-width="0.55"/>
<path d="M500.50,61.70h3.2v3.2h-3.2Z" fill="#3a9cff" stroke="#3a9cff" stroke-width="0.55" clip-path="url(#c8)"/>
<text x="512.6" y="65.9" font-size="7.2" fill="#222" stroke="#222" stroke-width="0.12">Cu-12C</text>
<path d="M547.14,63.30L551.43,60.82L551.43,65.78Z" fill="#a47a1a"/>
<text x="560.5" y="65.9" font-size="7.2" fill="#222" stroke="#222" stroke-width="0.12">dCu<tspan font-size="4.68" dy="2.30">2</tspan><tspan dy="-2.30">​</tspan>O/Ag<tspan font-size="4.68" dy="2.30">2.3%</tspan><tspan dy="-2.30">​</tspan></text>
<rect x="446.8" y="77.2" width="214.7" height="179.60000000000002" fill="none" stroke="#6a6a6a" stroke-width="1.1"/>
<line x1="446.8" y1="77.2" x2="446.8" y2="256.8" stroke="#555" stroke-width="1.2"/>
<line x1="446.8" y1="256.8" x2="661.5" y2="256.8" stroke="#555" stroke-width="1.2"/>
<line x1="444.6" y1="256.80" x2="446.8" y2="256.80" stroke="#333" stroke-width="0.8"/>
<text x="442.5" y="259.60" font-size="7.8" text-anchor="end" fill="#222" stroke="#222" stroke-width="0.12">0</text>
<line x1="445.5" y1="245.58" x2="446.8" y2="245.58" stroke="#333" stroke-width="0.8"/>
<line x1="444.6" y1="234.35" x2="446.8" y2="234.35" stroke="#333" stroke-width="0.8"/>
<text x="442.5" y="237.15" font-size="7.8" text-anchor="end" fill="#222" stroke="#222" stroke-width="0.12">100</text>
<line x1="445.5" y1="223.12" x2="446.8" y2="223.12" stroke="#333" stroke-width="0.8"/>
<line x1="444.6" y1="211.90" x2="446.8" y2="211.90" stroke="#333" stroke-width="0.8"/>
<text x="442.5" y="214.70" font-size="7.8" text-anchor="end" fill="#222" stroke="#222" stroke-width="0.12">200</text>
<line x1="445.5" y1="200.68" x2="446.8" y2="200.68" stroke="#333" stroke-width="0.8"/>
<line x1="444.6" y1="189.45" x2="446.8" y2="189.45" stroke="#333" stroke-width="0.8"/>
<text x="442.5" y="192.25" font-size="7.8" text-anchor="end" fill="#222" stroke="#222" stroke-width="0.12">300</text>
<line x1="445.5" y1="178.23" x2="446.8" y2="178.23" stroke="#333" stroke-width="0.8"/>
<line x1="444.6" y1="167.00" x2="446.8" y2="167.00" stroke="#333" stroke-width="0.8"/>
<text x="442.5" y="169.80" font-size="7.8" text-anchor="end" fill="#222" stroke="#222" stroke-width="0.12">400</text>
<line x1="445.5" y1="155.77" x2="446.8" y2="155.77" stroke="#333" stroke-width="0.8"/>
<line x1="444.6" y1="144.55" x2="446.8" y2="144.55" stroke="#333" stroke-width="0.8"/>
<text x="442.5" y="147.35" font-size="7.8" text-anchor="end" fill="#222" stroke="#222" stroke-width="0.12">500</text>
<line x1="445.5" y1="133.32" x2="446.8" y2="133.32" stroke="#333" stroke-width="0.8"/>
<line x1="444.6" y1="122.10" x2="446.8" y2="122.10" stroke="#333" stroke-width="0.8"/>
<text x="442.5" y="124.90" font-size="7.8" text-anchor="end" fill="#222" stroke="#222" stroke-width="0.12">600</text>
<line x1="445.5" y1="110.88" x2="446.8" y2="110.88" stroke="#333" stroke-width="0.8"/>
<line x1="444.6" y1="99.65" x2="446.8" y2="99.65" stroke="#333" stroke-width="0.8"/>
<text x="442.5" y="102.45" font-size="7.8" text-anchor="end" fill="#222" stroke="#222" stroke-width="0.12">700</text>
<line x1="445.5" y1="88.42" x2="446.8" y2="88.42" stroke="#333" stroke-width="0.8"/>
<line x1="444.6" y1="77.20" x2="446.8" y2="77.20" stroke="#333" stroke-width="0.8"/>
<text x="442.5" y="80.00" font-size="7.8" text-anchor="end" fill="#222" stroke="#222" stroke-width="0.12">800</text>
<line x1="446.80" y1="256.8" x2="446.80" y2="259.0" stroke="#333" stroke-width="0.8"/>
<text x="446.80" y="267.70" font-size="7.8" text-anchor="middle" fill="#222" stroke="#222" stroke-width="0.12">0</text>
<line x1="462.14" y1="256.8" x2="462.14" y2="258.1" stroke="#333" stroke-width="0.8"/>
<line x1="477.47" y1="256.8" x2="477.47" y2="259.0" stroke="#333" stroke-width="0.8"/>
<text x="477.47" y="267.70" font-size="7.8" text-anchor="middle" fill="#222" stroke="#222" stroke-width="0.12">200</text>
<line x1="492.81" y1="256.8" x2="492.81" y2="258.1" stroke="#333" stroke-width="0.8"/>
<line x1="508.14" y1="256.8" x2="508.14" y2="259.0" stroke="#333" stroke-width="0.8"/>
<text x="508.14" y="267.70" font-size="7.8" text-anchor="middle" fill="#222" stroke="#222" stroke-width="0.12">400</text>
<line x1="523.48" y1="256.8" x2="523.48" y2="258.1" stroke="#333" stroke-width="0.8"/>
<line x1="538.81" y1="256.8" x2="538.81" y2="259.0" stroke="#333" stroke-width="0.8"/>
<text x="538.81" y="267.70" font-size="7.8" text-anchor="middle" fill="#222" stroke="#222" stroke-width="0.12">600</text>
<line x1="554.15" y1="256.8" x2="554.15" y2="258.1" stroke="#333" stroke-width="0.8"/>
<line x1="569.49" y1="256.8" x2="569.49" y2="259.0" stroke="#333" stroke-width="0.8"/>
<text x="569.49" y="267.70" font-size="7.8" text-anchor="middle" fill="#222" stroke="#222" stroke-width="0.12">800</text>
<line x1="584.82" y1="256.8" x2="584.82" y2="258.1" stroke="#333" stroke-width="0.8"/>
<line x1="600.16" y1="256.8" x2="600.16" y2="259.0" stroke="#333" stroke-width="0.8"/>
<text x="600.16" y="267.70" font-size="7.8" text-anchor="middle" fill="#222" stroke="#222" stroke-width="0.12">1000</text>
<line x1="615.49" y1="256.8" x2="615.49" y2="258.1" stroke="#333" stroke-width="0.8"/>
<line x1="630.83" y1="256.8" x2="630.83" y2="259.0" stroke="#333" stroke-width="0.8"/>
<text x="630.83" y="267.70" font-size="7.8" text-anchor="middle" fill="#222" stroke="#222" stroke-width="0.12">1200</text>
<line x1="646.16" y1="256.8" x2="646.16" y2="258.1" stroke="#333" stroke-width="0.8"/>
<line x1="661.50" y1="256.8" x2="661.50" y2="259.0" stroke="#333" stroke-width="0.8"/>
<text x="661.50" y="267.70" font-size="7.8" text-anchor="middle" fill="#222" stroke="#222" stroke-width="0.12">1400</text>
<text transform="translate(423.8,166.3) rotate(-90)" font-size="7.5" text-anchor="middle" fill="#222" stroke="#222" stroke-width="0.12"><tspan font-style="italic">j</tspan><tspan font-size="4.9" dy="1.7">EtOH</tspan><tspan dy="-1.7"> (mA cm</tspan><tspan font-size="4.9" dy="-2.8">-2</tspan><tspan dy="2.8">)</tspan></text>
<text x="529.7" y="280.2" font-size="7.6" fill="#222" stroke="#222" stroke-width="0.12"><tspan font-style="italic">j</tspan><tspan font-size="5" dy="1.7">C2+</tspan><tspan dy="-1.7"> (mA cm</tspan><tspan font-size="5" dy="-2.8">-2</tspan><tspan dy="2.8">)</tspan></text>
<path d="M452.41,251.40L456.89,248.81L456.89,253.99Z" fill="#1c1cf0"/>
<path d="M465.70,243.10a2.3,2.3 0 1,0 4.6,0a2.3,2.3 0 1,0 -4.6,0Z" fill="#45a5f5"/>
<clipPath id="c9"><rect x="465.50" y="235.10" width="3.20" height="6.40"/></clipPath>
<path d="M466.70,238.30a2.0,2.0 0 1,0 4.0,0a2.0,2.0 0 1,0 -4.0,0Z" fill="#fff" stroke="#45e0d2" stroke-width="0.55"/>
<path d="M466.70,238.30a2.0,2.0 0 1,0 4.0,0a2.0,2.0 0 1,0 -4.0,0Z" fill="#45e0d2" stroke="#45e0d2" stroke-width="0.55" clip-path="url(#c9)"/>
<path d="M477.50,239.16L480.01,240.98L479.05,243.94L475.95,243.94L474.99,240.98Z" fill="#5a68f2"/>
<clipPath id="c10"><rect x="481.90" y="240.10" width="3.20" height="6.40"/></clipPath>
<path d="M479.90,243.30a2.0,2.0 0 1,0 4.0,0a2.0,2.0 0 1,0 -4.0,0Z" fill="#fff" stroke="#2424f0" stroke-width="0.55"/>
<path d="M479.90,243.30a2.0,2.0 0 1,0 4.0,0a2.0,2.0 0 1,0 -4.0,0Z" fill="#2424f0" stroke="#2424f0" stroke-width="0.55" clip-path="url(#c10)"/>
<path d="M487.30,236.13L489.44,239.84L485.16,239.84Z" fill="#c8f4f0" stroke="#45e0d2" stroke-width="0.9"/>
<path d="M500.00,229.78L502.30,231.45L501.42,234.16L498.58,234.16L497.70,231.45Z" fill="#b5561a"/>
<clipPath id="c11"><rect x="479.48" y="228.00" width="7.04" height="3.52"/></clipPath>
<path d="M480.14,228.00L484.43,225.52L484.43,230.48Z" fill="#fff" stroke="#2ee02e" stroke-width="0.55"/>
<path d="M480.14,228.00L484.43,225.52L484.43,230.48Z" fill="#2ee02e" stroke="#2ee02e" stroke-width="0.55" clip-path="url(#c11)"/>
<path d="M484.60,225.48L487.30,230.16L481.90,230.16Z" fill="#f52a2a"/>
<path d="M488.20,219.05L490.95,221.80L488.20,224.55L485.45,221.80Z" fill="#45e88e"/>
<clipPath id="c12"><rect x="489.78" y="221.08" width="3.52" height="7.04"/></clipPath>
<path d="M493.30,221.85L496.05,224.60L493.30,227.35L490.55,224.60Z" fill="#fff" stroke="#a8a422" stroke-width="0.55"/>
<path d="M493.30,221.85L496.05,224.60L493.30,227.35L490.55,224.60Z" fill="#a8a422" stroke="#a8a422" stroke-width="0.55" clip-path="url(#c12)"/>
<path d="M476.60,210.00a2.2,2.2 0 1,0 4.4,0a2.2,2.2 0 1,0 -4.4,0Z" fill="#2b6262"/>
<circle cx="478.20" cy="209.40" r="0.7" fill="#fff" opacity="0.55"/>
<clipPath id="c13"><rect x="496.00" y="211.34" width="2.56" height="5.12"/></clipPath>
<path d="M494.40,212.30h3.2v3.2h-3.2Z" fill="#fff" stroke="#3a9cff" stroke-width="0.55"/>
<path d="M494.40,212.30h3.2v3.2h-3.2Z" fill="#3a9cff" stroke="#3a9cff" stroke-width="0.55" clip-path="url(#c13)"/>
<path d="M514.60,219.92L511.90,215.24L517.30,215.24Z" fill="#45e88e"/>
<path d="M519.39,209.80L514.90,212.39L514.90,207.21Z" fill="#d4d422"/>
<clipPath id="c14"><rect x="519.48" y="213.10" width="7.04" height="3.52"/></clipPath>
<path d="M520.80,213.10a2.2,2.2 0 1,0 4.4,0a2.2,2.2 0 1,0 -4.4,0Z" fill="#fff" stroke="#c2580e" stroke-width="0.55"/>
<path d="M520.80,213.10a2.2,2.2 0 1,0 4.4,0a2.2,2.2 0 1,0 -4.4,0Z" fill="#c2580e" stroke="#c2580e" stroke-width="0.55" clip-path="url(#c14)"/>
<path d="M542.70,183.10a2.2,2.2 0 1,0 4.4,0a2.2,2.2 0 1,0 -4.4,0Z" fill="#f52525"/>
<circle cx="544.30" cy="182.50" r="0.7" fill="#fff" opacity="0.55"/>
<path d="M541.64,183.80L545.93,181.32L545.93,186.28Z" fill="#a47a1a"/>
<clipPath id="c15"><rect x="538.20" y="158.30" width="3.20" height="6.40"/></clipPath>
<path d="M539.40,161.50a2.0,2.0 0 1,0 4.0,0a2.0,2.0 0 1,0 -4.0,0Z" fill="#fff" stroke="#6e5616" stroke-width="0.55"/>
<path d="M539.40,161.50a2.0,2.0 0 1,0 4.0,0a2.0,2.0 0 1,0 -4.0,0Z" fill="#6e5616" stroke="#6e5616" stroke-width="0.55" clip-path="url(#c15)"/>
<path d="M552.80,171.80a2.2,2.2 0 1,0 4.4,0a2.2,2.2 0 1,0 -4.4,0Z" fill="#4d7d22"/>
<path d="M558.70,98.46L556.22,94.17L561.18,94.17Z" fill="#333333"/>
<path d="M598.20,140.01L598.99,142.12L601.23,142.21L599.47,143.61L600.08,145.78L598.20,144.54L596.32,145.78L596.93,143.61L595.17,142.21L597.41,142.12Z" fill="#f52525"/>
<clipPath id="c16"><rect x="611.08" y="162.48" width="7.04" height="3.52"/></clipPath>
<path d="M612.40,166.00a2.2,2.2 0 1,0 4.4,0a2.2,2.2 0 1,0 -4.4,0Z" fill="#fff" stroke="#8a1ef0" stroke-width="0.55"/>
<path d="M612.40,166.00a2.2,2.2 0 1,0 4.4,0a2.2,2.2 0 1,0 -4.4,0Z" fill="#8a1ef0" stroke="#8a1ef0" stroke-width="0.55" clip-path="url(#c16)"/>
<text x="523.2" y="180" font-size="7.8" fill="#ee2b2b" stroke="#ee2b2b" stroke-width="0.12">This work</text>
<text x="582.7" y="135.8" font-size="7.8" fill="#ee2b2b" stroke="#ee2b2b" stroke-width="0.12">This work</text>
</svg></body></html>
